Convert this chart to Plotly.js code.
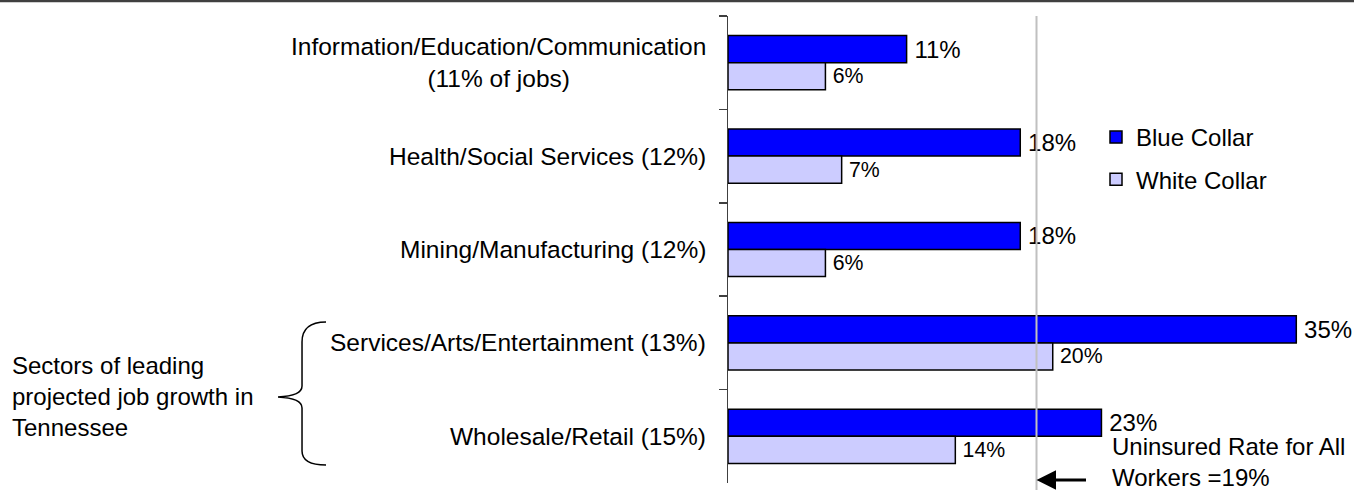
<!DOCTYPE html>
<html><head><meta charset="utf-8">
<script src="https://cdn.plot.ly/plotly-3.0.1.min.js"></script>
<style>html,body{margin:0;padding:0;background:#fff}</style>
</head><body><div id="chart" style="width:1354px;height:490px"></div>
<script>
// ---- data ----
const categories = [
  "Information/Education/Communication<br>(11% of jobs)",
  "Health/Social Services (12%)",
  "Mining/Manufacturing (12%)",
  "Services/Arts/Entertainment (13%)",
  "Wholesale/Retail (15%)"
];
const blueCollar = [11, 18, 18, 35, 23];
const whiteCollar = [6, 7, 6, 20, 14];
const seriesNames = ["Blue Collar", "White Collar"];
const allWorkersRate = 19;
const rateLabel = "Uninsured Rate for All<br>Workers =19%";
const growthNote = "Sectors of leading<br>projected job growth in<br>Tennessee";

// ---- layout helpers (pixel -> paper) ----
const W = 1354, H = 490;
const M = {l: 728, r: 9, t: 16, b: 7};
const PW = W - M.l - M.r, PH = H - M.t - M.b;
const px = x => (x - M.l) / PW;
const py = y => (H - M.b - y) / PH;
const FONT = "Liberation Sans, Arial, sans-serif";
const fmt = v => "\u2009" + v + "%";

const traces = [
  {
    type: "bar", orientation: "h", name: seriesNames[0],
    y: categories, x: blueCollar,
    text: blueCollar.map(fmt), textposition: "outside", constraintext: "none",
    textfont: {family: FONT, size: 24, color: "#000"},
    cliponaxis: false, hoverinfo: "skip",
    marker: {color: "#0000FF", line: {color: "#000", width: 1.5}},
    legendgroup: "a"
  },
  {
    type: "bar", orientation: "h", name: seriesNames[1],
    y: categories, x: whiteCollar,
    text: whiteCollar.map(fmt), textposition: "outside", constraintext: "none",
    textfont: {family: FONT, size: 21.3, color: "#000"},
    cliponaxis: false, hoverinfo: "skip",
    marker: {color: "#CCCCFF", line: {color: "#000", width: 1.5}},
    legendgroup: "b"
  }
];

const annotations = categories.map(c => ({
  xref: "paper", yref: "y", x: 0, y: c, xanchor: "right", yanchor: "middle",
  xshift: -20, align: "center", showarrow: false, text: c,
  font: {family: FONT, size: 24.5, color: "#000"}
}));
annotations.push({
  xref: "paper", yref: "paper", x: px(1110), y: py(462), xanchor: "left", yanchor: "middle",
  align: "left", showarrow: false, text: rateLabel,
  font: {family: FONT, size: 24, color: "#000"}
});
annotations.push({
  xref: "paper", yref: "paper", x: px(10), y: py(396), xanchor: "left", yanchor: "middle",
  align: "left", showarrow: false, text: growthNote,
  font: {family: FONT, size: 24, color: "#000"}
});
annotations.push({
  xref: "x", yref: "paper", x: allWorkersRate, y: py(480), text: "",
  showarrow: true, axref: "pixel", ayref: "pixel", ax: 51, ay: 0,
  arrowhead: 2, arrowsize: 1.3, arrowwidth: 3, arrowcolor: "#000", standoff: 0
});

const bracePts = [[326,322],[302,322],[302,342],[302,386],[302,396],[278,397],[302,398],[302,408],[302,451],[302,465],[326,465]];
const bp = bracePts.map(p => [px(p[0]).toFixed(4), py(p[1]).toFixed(4)]);
const bracePath = `M${bp[0]} Q${bp[1]} ${bp[2]} L${bp[3]} Q${bp[4]} ${bp[5]} Q${bp[6]} ${bp[7]} L${bp[8]} Q${bp[9]} ${bp[10]}`;

const shapes = [
  {type: "line", xref: "paper", yref: "paper", x0: px(0), x1: px(W), y0: py(1), y1: py(1),
   line: {color: "#404040", width: 2.5}},
  {type: "line", xref: "x", yref: "paper", x0: allWorkersRate, x1: allWorkersRate, y0: py(490), y1: 1,
   line: {color: "#C0C0C0", width: 2}, layer: "above"},
  {type: "path", xref: "paper", yref: "paper", path: bracePath,
   line: {color: "#000", width: 1.5}}
];

const layout = {
  width: W, height: H, margin: M,
  paper_bgcolor: "#fff", plot_bgcolor: "#fff",
  barmode: "group", bargap: 0.42, bargroupgap: 0,
  font: {family: FONT, size: 24, color: "#000"},
  xaxis: {range: [0, 38], visible: false, showgrid: false, zeroline: false},
  yaxis: {
    autorange: "reversed", type: "category", showticklabels: false,
    showline: true, linecolor: "#404040", linewidth: 1.5,
    ticks: "outside", tickson: "boundaries", ticklen: 8, tickcolor: "#404040", tickwidth: 1.5,
    showgrid: false, zeroline: false
  },
  showlegend: true,
  legend: {
    x: px(1096), y: py(115), xanchor: "left", yanchor: "top",
    traceorder: "grouped", tracegroupgap: 8, bgcolor: "rgba(0,0,0,0)",
    font: {family: FONT, size: 24, color: "#000"}
  },
  annotations: annotations, shapes: shapes
};

Plotly.newPlot("chart", traces, layout, {staticPlot: true, displayModeBar: false});
</script></body></html>
